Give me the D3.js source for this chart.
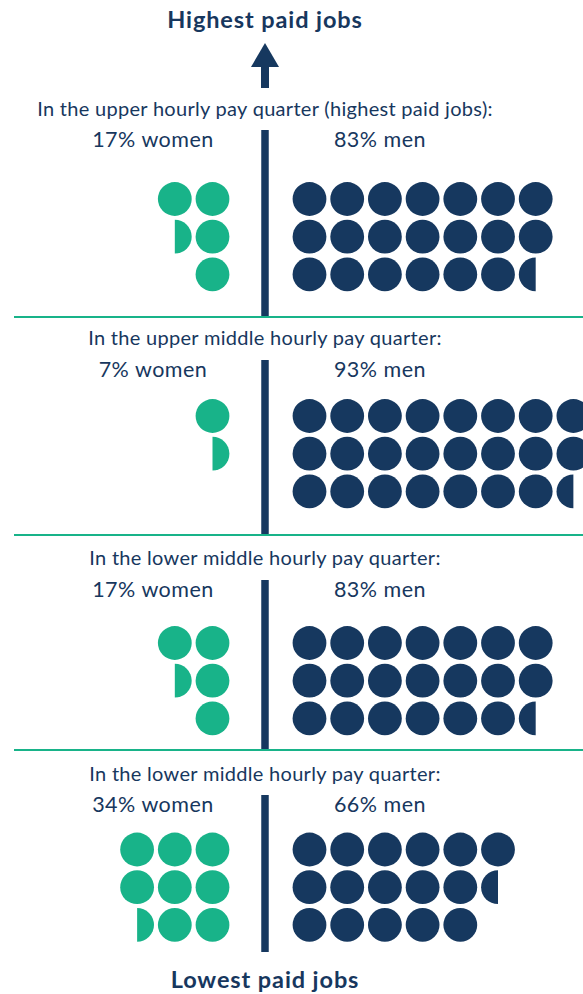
<!DOCTYPE html>
<html>
<head>
<meta charset="utf-8">
<script src="https://cdn.jsdelivr.net/npm/d3@7"></script>
<style>
  body { margin: 0; background: #fff; }
  svg { display: block; }
  text { font-family: Lato, sans-serif; fill: #17375e; }
</style>
</head>
<body>
<div id="chart"></div>
<script>
// values, one dot = 4%, half dots allowed
var quarters = [
  "In the upper hourly pay quarter (highest paid jobs):",
  "In the upper middle hourly pay quarter:",
  "In the lower middle hourly pay quarter:",
  "In the lower middle hourly pay quarter:"
];
var womenPct = [17, 7, 17, 34];
var menPct = [83, 93, 83, 66];
var womenDots = [4.5, 1.5, 4.5, 8.5];
var menDots = [20.5, 23.5, 20.5, 16.5];
var topLabel = "Highest paid jobs",
    bottomLabel = "Lowest paid jobs";

var width = 583, height = 994;
var navy = "#16385f", green = "#18b389";
var axisX = 265;

// vertical layout of each panel
var titleY = [116, 345, 565, 781],
    pctY = [147, 377, 597, 812],
    rowY = [199, 416, 643, 849.5],
    panelEnd = [317, 535, 750, 952];

var r = 16.9, step = 37.7;
var xMen = d3.scaleLinear().domain([0, 1]).range([309.5, 309.5 + step]),
    xWomen = d3.scaleLinear().domain([0, 1]).range([212.5, 212.5 - step]);

function dots(count) {
  var out = [];
  for (var i = 0; i < Math.ceil(count); i++) {
    out.push({col: Math.floor(i / 3), row: i % 3, half: i + 1 > count});
  }
  return out;
}

var svg = d3.select("#chart").append("svg")
    .attr("width", width)
    .attr("height", height);

// top arrow
svg.append("text")
    .attr("x", axisX).attr("y", 28)
    .attr("text-anchor", "middle")
    .style("font-size", "23.5px").style("font-weight", 700)
    .style("letter-spacing", "0.9px")
    .text(topLabel);

svg.append("rect")
    .attr("x", axisX - 4).attr("y", 64)
    .attr("width", 8).attr("height", 24)
    .attr("fill", navy);
svg.append("path")
    .attr("d", d3.line()([[axisX, 43], [axisX + 14, 67], [axisX - 14, 67]]))
    .attr("fill", navy);

svg.append("text")
    .attr("x", axisX).attr("y", 988)
    .attr("text-anchor", "middle")
    .style("font-size", "23.5px").style("font-weight", 700)
    .style("letter-spacing", "0.9px")
    .text(bottomLabel);

var full = d3.arc().innerRadius(0).outerRadius(r).startAngle(0).endAngle(2 * Math.PI),
    halfRight = d3.arc().innerRadius(0).outerRadius(r).startAngle(0).endAngle(Math.PI),
    halfLeft = d3.arc().innerRadius(0).outerRadius(r).startAngle(Math.PI).endAngle(2 * Math.PI);

quarters.forEach(function(q, p) {
  var g = svg.append("g");
  var y = d3.scaleLinear().domain([0, 1]).range([rowY[p], rowY[p] + step]);

  if (p > 0) {
    g.append("line")
        .attr("x1", 14).attr("x2", width)
        .attr("y1", panelEnd[p - 1]).attr("y2", panelEnd[p - 1])
        .attr("stroke", green).attr("stroke-width", 2);
  }

  g.append("line")
      .attr("x1", axisX).attr("x2", axisX)
      .attr("y1", pctY[p] - 17).attr("y2", panelEnd[p])
      .attr("stroke", navy).attr("stroke-width", 7.5);

  g.append("text")
      .attr("x", axisX).attr("y", titleY[p])
      .attr("text-anchor", "middle")
      .style("font-size", "20px")
      .style("letter-spacing", "0.3px")
      .text(q);

  g.append("text")
      .attr("x", 153).attr("y", pctY[p])
      .attr("text-anchor", "middle")
      .style("font-size", "21.5px")
      .style("letter-spacing", "0.5px")
      .text(womenPct[p] + "% women");

  g.append("text")
      .attr("x", 380).attr("y", pctY[p])
      .attr("text-anchor", "middle")
      .style("font-size", "21.5px")
      .style("letter-spacing", "0.5px")
      .text(menPct[p] + "% men");

  g.selectAll(".w").data(dots(womenDots[p])).enter().append("path")
      .attr("class", "w")
      .attr("transform", function(d) { return "translate(" + xWomen(d.col) + "," + y(d.row) + ")"; })
      .attr("d", function(d) { return d.half ? halfRight() : full(); })
      .attr("fill", green);

  g.selectAll(".m").data(dots(menDots[p])).enter().append("path")
      .attr("class", "m")
      .attr("transform", function(d) { return "translate(" + xMen(d.col) + "," + y(d.row) + ")"; })
      .attr("d", function(d) { return d.half ? halfLeft() : full(); })
      .attr("fill", navy);
});
</script>
</body>
</html>
